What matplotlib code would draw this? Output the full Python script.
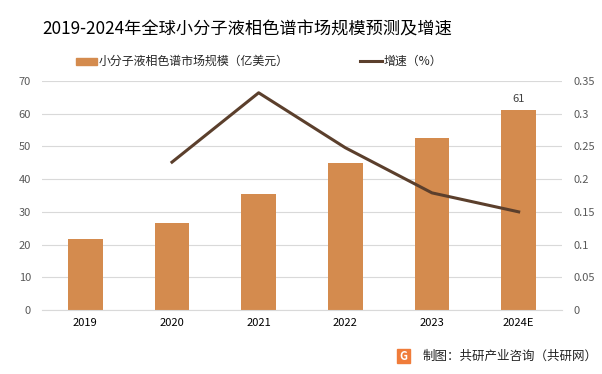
import matplotlib
matplotlib.use("Agg")
import matplotlib.pyplot as plt
from matplotlib.lines import Line2D
import numpy as np

plt.rcParams['font.family'] = ['Noto Sans CJK SC', 'DejaVu Sans']

years = ["2019", "2020", "2021", "2022", "2023", "2024E"]
market_size = [21.7, 26.6, 35.6, 45.0, 52.6, 61.0]
growth_years = ["2020", "2021", "2022", "2023", "2024E"]
growth_rate = [0.226, 0.332, 0.248, 0.179, 0.150]

bar_color = "#d48b4e"
line_color = "#5b3f2c"
tick_color = "#595959"

fig = plt.figure(figsize=(6.02, 3.74), dpi=100)
ax1 = fig.add_axes([42 / 602, 64 / 374, 520 / 602, 229 / 374])
x = np.arange(len(years))
ax1.bar(x, market_size, width=0.4, color=bar_color, zorder=2)
ax1.set_ylim(0, 70)
ax1.set_yticks(range(0, 71, 10))
ax1.set_xlim(-0.5, len(years) - 0.5)
ax1.set_xticks(x)
ax1.set_xticklabels(years)
ax1.grid(axis="y", color="#d9d9d9", linewidth=0.8, zorder=0)
for s in ["top", "right", "left"]:
    ax1.spines[s].set_visible(False)
ax1.spines["bottom"].set_color("#d9d9d9")
ax1.tick_params(axis="y", length=0, labelsize=8, labelcolor=tick_color, pad=8)
ax1.tick_params(axis="x", length=0, labelsize=8, labelcolor="#000000", pad=6)
ax1.text(x[-1], market_size[-1] + 2, "61", ha="center", va="bottom",
         fontsize=8, color="#404040")

ax2 = ax1.twinx()
gx = [years.index(y) for y in growth_years]
ax2.plot(gx, growth_rate, color=line_color, linewidth=2.2, zorder=3)
ax2.set_ylim(0, 0.35)
ax2.set_yticks(np.arange(0, 0.351, 0.05))
ax2.set_yticklabels(["0", "0.05", "0.1", "0.15", "0.2", "0.25", "0.3", "0.35"])
for s in ["top", "right", "left", "bottom"]:
    ax2.spines[s].set_visible(False)
ax2.tick_params(axis="y", length=0, labelsize=8, labelcolor=tick_color, pad=8)

# 标题
fig.text(247 / 602, 1 - 30 / 374, "2019-2024年全球小分子液相色谱市场规模预测及增速",
         ha="center", va="center", fontsize=12.4, color="#000000")

# 图例
ly = 1 - 61 / 374
fig.patches.append(plt.Rectangle((76 / 602, ly - 3.5 / 374), 21 / 602, 7 / 374,
                                 transform=fig.transFigure, color=bar_color))
fig.text(99 / 602, ly, "小分子液相色谱市场规模（亿美元）", ha="left", va="center",
         fontsize=8.6, color="#262626")
fig.lines.append(Line2D([360 / 602, 382 / 602], [ly, ly], transform=fig.transFigure,
                        color=line_color, linewidth=2.2))
fig.text(384 / 602, ly, "增速（%）", ha="left", va="center",
         fontsize=8.6, color="#262626")

# 来源
fig.text(0.993, 1 - 356 / 374, "制图：共研产业咨询（共研网）", ha="right", va="center",
         fontsize=9, color="#222222")
fig.patches.append(plt.Rectangle((397 / 602, 1 - 363 / 374), 13 / 602, 14 / 374,
                                 transform=fig.transFigure, color="#f07c3a"))
fig.text(403.5 / 602, 1 - 356 / 374, "G", ha="center", va="center", fontsize=8,
         color="white", fontweight="bold")

fig.savefig("out.png", dpi=100)
